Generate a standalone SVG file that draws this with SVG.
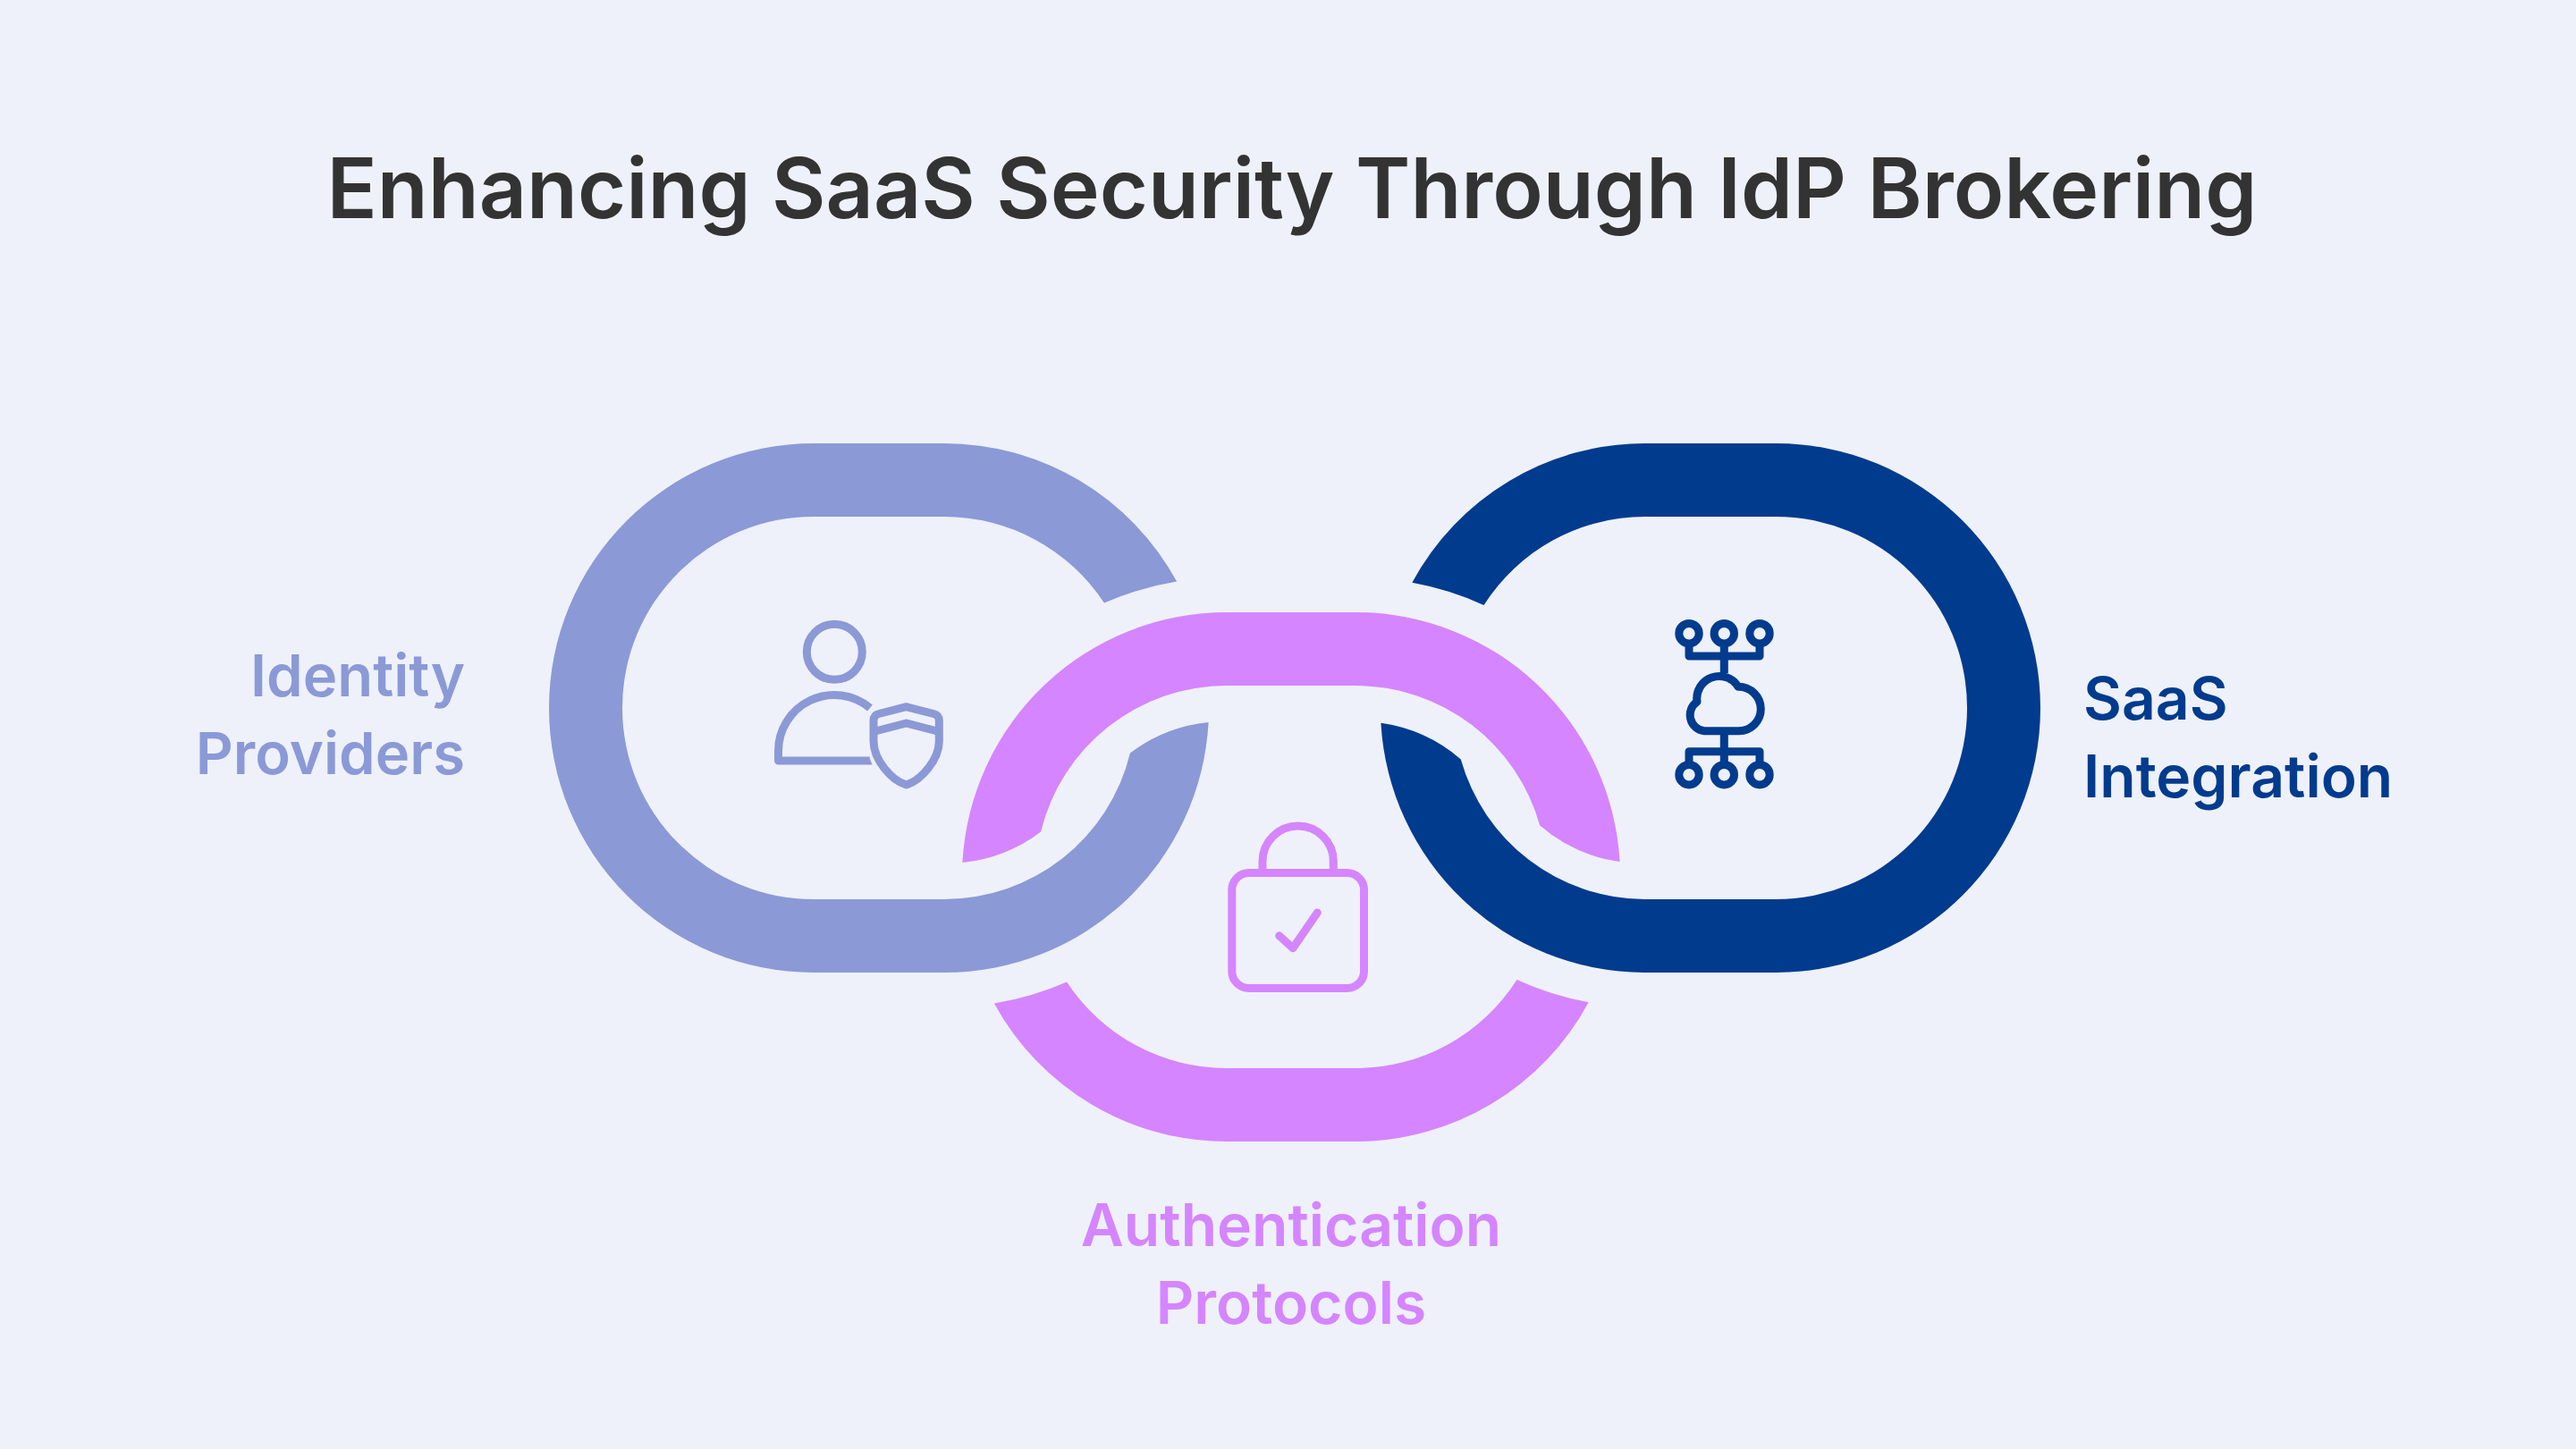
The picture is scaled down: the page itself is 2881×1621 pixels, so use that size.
<svg xmlns="http://www.w3.org/2000/svg" width="2881" height="1621" viewBox="0 0 2881 1621">
<style>
text{font-family:Inter,"Noto Sans",sans-serif;font-weight:600}
.t{font-size:93px;fill:#333333}
.l{font-size:66px}
.ll{font-size:65.2px}
.ic{fill:none;stroke-width:9;stroke-linejoin:round;stroke-linecap:butt}
</style>
<rect width="2881" height="1621" fill="#EEF1FA"/>
<text class="t" x="1445" y="243.5" text-anchor="middle">Enhancing SaaS Security Through IdP Brokering</text>
<g id="identity-providers">
<path fill="#8B99D6" d="M1316.1 650.6A296 296 0 0 0 1056 496H910A296 296 0 0 0 910 1088H1056A296 296 0 0 0 1351.6 808A174 174 0 0 0 1263.9 842.5A214 214 0 0 1 1056 1006H910A214 214 0 0 1 910 578H1056A214 214 0 0 1 1234.9 674.6A334.5 334.5 0 0 1 1316.1 650.6Z"/>
<g stroke="#8B99D6" class="ic">
<circle cx="933.3" cy="729.3" r="31"/>
<path d="M972.5 851H870.5V840.5A62.5 62.5 0 0 1 973 792"/>
<path d="M1013.6 790.7L1044 798.5Q1050.3 800 1050.3 806V829C1050.3 850 1030 873 1013.6 878C997 873 977 850 977 829V806Q977 800 983 798.5Z"/>
<path d="M977 818.5L1013.6 809L1050.3 818.5"/>
</g>
<path fill="#8B99D6" d="M972 846.5L975.5 855.5H972Z"/>
<text class="ll" fill="#8B99D6" x="520" y="779" text-anchor="end">Identity</text>
<text class="ll" fill="#8B99D6" x="520" y="865.5" text-anchor="end">Providers</text>
</g>
<g id="saas-integration">
<path fill="#003B8E" d="M1579.3 651.8A296 296 0 0 1 1839 496H1986A296 296 0 0 1 1986 1088H1839A296 296 0 0 1 1544.4 808.8A174 174 0 0 1 1633.8 849.4A214 214 0 0 0 1839 1006H1986A214 214 0 0 0 1986 578H1839A214 214 0 0 0 1659.5 677A334.5 334.5 0 0 0 1579.3 651.8Z"/>
<g stroke="#003B8E" class="ic">
<circle cx="1889" cy="708.7" r="11.2"/><circle cx="1928.3" cy="708.7" r="11.2"/><circle cx="1968" cy="708.7" r="11.2"/>
<circle cx="1889" cy="866.7" r="11.2"/><circle cx="1928.3" cy="866.7" r="11.2"/><circle cx="1968" cy="866.7" r="11.2"/>
<path d="M1889 720V734H1968V720M1928.3 720V753"/>
<path d="M1889 855V840.7H1968V855M1928.3 822V855"/>
<path d="M1921 817.7H1945A24.5 24.5 0 0 0 1969.3 793.3A25 25 0 0 0 1944 768.3A25 25 0 0 0 1898 785A18 18 0 0 0 1906 817.7Z"/>
</g>
<text class="l" fill="#003B8E" x="2330" y="805">SaaS</text>
<text class="l" fill="#003B8E" x="2330" y="892">Integration</text>
</g>
<g id="authentication-protocols">
<path fill="#D585FF" d="M1076.4 965A296 296 0 0 1 1372 685H1516A296 296 0 0 1 1811.6 964A174 174 0 0 1 1722.2 923.6A214 214 0 0 0 1516 767H1372A214 214 0 0 0 1164.1 930.5A174 174 0 0 1 1076.4 965Z"/>
<path fill="#D585FF" d="M1111.9 1122.4A296 296 0 0 0 1372 1277H1516A296 296 0 0 0 1776.7 1121.2A334.5 334.5 0 0 1 1696.5 1096A214 214 0 0 1 1516 1195H1372A214 214 0 0 1 1193.1 1098.4A334.5 334.5 0 0 1 1111.9 1122.4Z"/>
<g stroke="#D585FF" class="ic">
<rect x="1377.8" y="976.5" width="147.7" height="129" rx="19"/>
<path d="M1412 976V963.6A39.65 39.65 0 0 1 1491.3 963.6V976"/>
<path stroke-linecap="round" d="M1430.7 1046.7L1446 1060.7L1473.3 1021"/>
</g>
<text class="l" fill="#D585FF" x="1444" y="1394" text-anchor="middle">Authentication</text>
<text class="l" fill="#D585FF" x="1444" y="1481" text-anchor="middle">Protocols</text>
</g>
</svg>
